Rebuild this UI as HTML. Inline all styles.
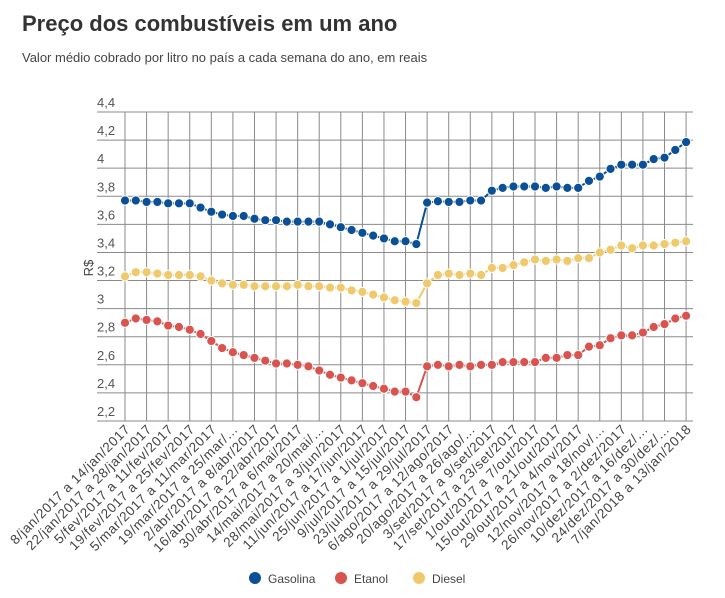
<!DOCTYPE html>
<html><head><meta charset="utf-8"><style>
body{margin:0;background:#fff;width:725px;height:593px;overflow:hidden;font-family:"Liberation Sans",sans-serif}
</style></head><body>
<svg width="725" height="593" xmlns="http://www.w3.org/2000/svg" font-family="Liberation Sans, sans-serif">
<text x="22" y="31" font-size="22" font-weight="bold" fill="#333">Preço dos combustíveis em um ano</text>
<text x="22" y="62" font-size="13" fill="#444">Valor médio cobrado por litro no país a cada semana do ano, em reais</text>
<g id="grid" stroke="#8a8a8a" stroke-width="1"></g>
<g font-size="13" fill="#555" id="ylab"></g>
<text transform="translate(93,268) rotate(-90)" font-size="13" fill="#444" text-anchor="middle">R$</text>
<g id="series"></g>
<g font-size="13.5" letter-spacing="0.6" fill="#444" text-anchor="end" id="xlab">
<text>8/jan/2017 a 14/jan/2017</text>
<text>22/jan/2017 a 28/jan/2017</text>
<text>5/fev/2017 a 11/fev/2017</text>
<text>19/fev/2017 a 25/fev/2017</text>
<text>5/mar/2017 a 11/mar/2017</text>
<text>19/mar/2017 a 25/mar/…</text>
<text>2/abr/2017 a 8/abr/2017</text>
<text>16/abr/2017 a 22/abr/2017</text>
<text>30/abr/2017 a 6/mai/2017</text>
<text>14/mai/2017 a 20/mai/…</text>
<text>28/mai/2017 a 3/jun/2017</text>
<text>11/jun/2017 a 17/jun/2017</text>
<text>25/jun/2017 a 1/jul/2017</text>
<text>9/jul/2017 a 15/jul/2017</text>
<text>23/jul/2017 a 29/jul/2017</text>
<text>6/ago/2017 a 12/ago/2017</text>
<text>20/ago/2017 a 26/ago/…</text>
<text>3/set/2017 a 9/set/2017</text>
<text>17/set/2017 a 23/set/2017</text>
<text>1/out/2017 a 7/out/2017</text>
<text>15/out/2017 a 21/out/2017</text>
<text>29/out/2017 a 4/nov/2017</text>
<text>12/nov/2017 a 18/nov/…</text>
<text>26/nov/2017 a 2/dez/2017</text>
<text>10/dez/2017 a 16/dez/…</text>
<text>24/dez/2017 a 30/dez/…</text>
<text>7/jan/2018 a 13/jan/2018</text>
</g>
<circle cx="255" cy="578" r="6" fill="#0b4f96"/><text x="268" y="583" font-size="12" fill="#444">Gasolina</text>
<circle cx="341" cy="578" r="6" fill="#d9534f"/><text x="354" y="583" font-size="12" fill="#444">Etanol</text>
<circle cx="419" cy="578" r="6" fill="#efc96b"/><text x="432" y="583" font-size="12" fill="#444">Diesel</text>
</svg>
<script>
const NS="http://www.w3.org/2000/svg";
const X=i=>125+i*10.79, Y=v=>112+(4.4-v)*140.5;
function el(p,t,a){const e=document.createElementNS(NS,t);for(const k in a)e.setAttribute(k,a[k]);p.appendChild(e);return e;}
const g=document.getElementById('grid');
for(let k=0;k<=11;k++){const y=112+k*28.09;el(g,'line',{x1:97,x2:693,y1:y,y2:y});}
for(let i=0;i<=52;i+=2){el(g,'line',{x1:X(i),x2:X(i),y1:112,y2:421});}
const yl=document.getElementById('ylab');
for(let k=0;k<=11;k++){const v=(4.4-k*0.2);let s=(Math.round(v*10)/10).toString().replace('.',',');const t=el(yl,'text',{x:97,y:112+k*28.09-5});t.textContent=s;}
const gas=[3.77,3.77,3.76,3.76,3.75,3.75,3.75,3.72,3.69,3.67,3.66,3.66,3.64,3.63,3.63,3.62,3.62,3.62,3.62,3.60,3.58,3.56,3.54,3.52,3.50,3.48,3.48,3.46,
3.755,3.765,3.76,3.76,3.77,3.77,3.84,3.86,3.87,3.87,3.87,3.86,3.87,3.86,3.86,3.91,3.94,3.995,4.025,4.025,4.025,4.065,4.075,4.13,4.186];
const die=[3.23,3.26,3.26,3.25,3.24,3.24,3.24,3.23,3.20,3.18,3.17,3.17,3.16,3.16,3.16,3.16,3.17,3.16,3.16,3.15,3.15,3.13,3.12,3.10,3.08,3.06,3.05,3.04,
3.18,3.24,3.25,3.24,3.25,3.24,3.29,3.29,3.31,3.33,3.35,3.34,3.35,3.34,3.36,3.36,3.40,3.42,3.45,3.43,3.45,3.45,3.46,3.47,3.48];
const eta=[2.90,2.93,2.92,2.91,2.88,2.87,2.85,2.82,2.77,2.72,2.69,2.67,2.65,2.63,2.61,2.61,2.60,2.59,2.56,2.53,2.51,2.49,2.47,2.45,2.43,2.41,2.41,2.37,
2.59,2.60,2.59,2.60,2.59,2.60,2.60,2.62,2.62,2.62,2.62,2.65,2.65,2.67,2.67,2.73,2.74,2.79,2.81,2.81,2.83,2.87,2.89,2.93,2.95];
const s=document.getElementById('series');
[[gas,'#0b4f96'],[eta,'#d9534f'],[die,'#efc96b']].forEach(([d,c])=>{
 el(s,'polyline',{points:d.map((v,i)=>X(i)+','+Y(v)).join(' '),fill:'none',stroke:c,'stroke-width':2});
 d.forEach((v,i)=>el(s,'circle',{cx:X(i),cy:Y(v),r:4.6,fill:c,stroke:'#fff','stroke-width':1}));
});
[...document.querySelectorAll('#xlab text')].forEach((t,j)=>{const x=X(j*2)+6,y=430;t.setAttribute('x',x);t.setAttribute('y',y);t.setAttribute('transform',`rotate(-45 ${x} ${y})`);});
</script>
</body></html>
